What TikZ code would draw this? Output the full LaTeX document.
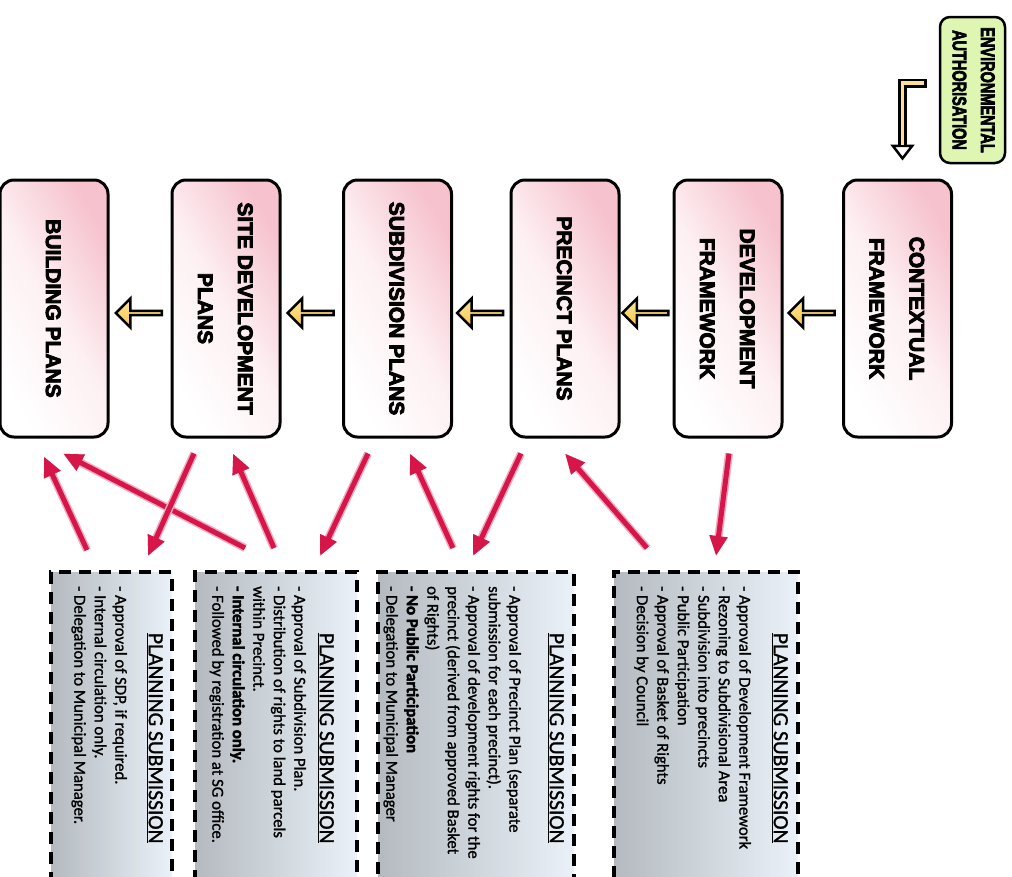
\documentclass[tikz,border=0pt]{standalone}
\usepackage{fontspec}
\setmainfont{Carlito}[UprightFeatures={FakeBold=1.2}, BoldFeatures={FakeBold=2.5}]
\newfontfamily\headfont{Liberation Sans}[BoldFeatures={FakeBold=4}]
\usetikzlibrary{arrows.meta,shapes.arrows,calc}
\definecolor{boxpink}{RGB}{246,194,205}
\definecolor{boxpinkmid}{RGB}{253,240,243}
\definecolor{envgreen}{RGB}{222,246,178}
\definecolor{redarrow}{RGB}{214,22,72}
\definecolor{redhalo}{RGB}{242,170,190}
\definecolor{yellowarrow}{RGB}{246,198,60}
\definecolor{psdark}{RGB}{180,186,192}
\definecolor{pslight}{RGB}{234,241,248}
\tikzset{
  mainbox/.style={draw=black, line width=3pt, rounded corners=14pt,
    minimum width=108pt, minimum height=257pt,
    top color=boxpink, bottom color=white, middle color=boxpinkmid, shading angle=-60,
    inner sep=0pt, font=\headfont\bfseries\fontsize{21}{40}\selectfont},
  envbox/.style={draw=black, line width=2.5pt, rounded corners=10pt, fill=envgreen,
    minimum width=65pt, minimum height=146pt, inner sep=0pt,
    font=\headfont\bfseries\fontsize{14.5}{21}\selectfont},
  psbox/.style={draw=black, line width=4pt, dash pattern=on 12pt off 8pt,
    left color=psdark, right color=pslight, minimum height=338pt, inner sep=0pt},
  pstext/.style={anchor=north east, inner sep=0pt},
  yarrow/.style={single arrow, draw=black, line width=2.5pt,
    top color=yellowarrow!45!white, bottom color=yellowarrow,
    shading angle=0, minimum height=46pt, minimum width=29pt,
    single arrow head extend=7.5pt, shape border rotate=180, inner sep=0pt},
  rarrow/.style={draw=redarrow, line width=5pt, -{Triangle[width=17pt,length=20pt]},
    preaction={draw=redhalo, line width=8pt}},
}
\newcommand{\rot}[1]{\rotatebox{-90}{\begin{tabular}{@{}c@{}}#1\end{tabular}}}
\newcommand{\pstitle}{{\fontsize{21.5}{24}\selectfont\underline{PLANNING SUBMISSION}\par}}
\newcommand{\psbody}{\fontsize{16.7}{20.5}\selectfont\raggedright}
\begin{document}
\begin{tikzpicture}[x=1pt,y=-1pt]
\useasboundingbox (0,0) rectangle (1012,876);
\clip (0,0) rectangle (1012,876);

% main boxes
\node[mainbox] (bp)  at (54,308.5)    {\rot{BUILDING PLANS}};
\node[mainbox] (sdp) at (226,308.5)   {\rot{SITE DEVELOPMENT\\PLANS}};
\node[mainbox] (sp)  at (397.5,308.5) {\rot{SUBDIVISION PLANS}};
\node[mainbox] (pp)  at (565,308.5)   {\rot{PRECINCT PLANS}};
\node[mainbox] (df)  at (728,308.5)   {\rot{DEVELOPMENT\\FRAMEWORK}};
\node[mainbox] (cf)  at (897.5,308.5) {\rot{CONTEXTUAL\\FRAMEWORK}};

% environmental authorisation
\node[envbox] (env) at (972.5,90) {\rotatebox{-90}{\scalebox{1}[1.35]{\begin{tabular}{@{}c@{}}ENVIRONMENTAL\\AUTHORISATION\end{tabular}}}};

% L-shaped arrow
\coordinate (ea) at ([xshift=-12pt,yshift=7pt]env.west);
\draw[line width=9pt, -{Triangle[open, fill=white, line width=2.5pt, width=24pt, length=16pt]}]
  (ea) -| ([xshift=5pt,yshift=18pt]cf.north);
\draw[line width=3.5pt, yellowarrow!55!white]
  ([xshift=-2.75pt]ea) -| ([xshift=5pt,yshift=34pt]cf.north);

% yellow block arrows
\node[yarrow] (ya1) at ($(cf.west)!0.5!(df.east)+(0,4.5)$) {};
\node[yarrow] (ya2) at ($(df.west)!0.5!(pp.east)+(0,4.5)$) {};
\node[yarrow] (ya3) at ($(pp.west)!0.5!(sp.east)+(0,4.5)$) {};
\node[yarrow] (ya4) at ($(sp.west)!0.5!(sdp.east)+(0,4.5)$) {};
\node[yarrow] (ya5) at ($(sdp.west)!0.5!(bp.east)+(0,4.5)$) {};

% planning submission boxes
\node[psbox, minimum width=184pt] (ps1) at (706,741) {};
\node[psbox, minimum width=196pt] (ps2) at (476,741) {};
\node[psbox, minimum width=162pt] (ps3) at (276,741) {};
\node[psbox, minimum width=121pt] (ps4) at (111.5,741) {};

\node[pstext] (ps1t) at ([xshift=-12pt,yshift=-16pt]ps1.north east) {\rotatebox{-90}{\begin{minipage}{304pt}
\centering\pstitle\vspace{14pt}\psbody
- Approval of Development Framework\\
- Rezoning to Subdivisional Area\\
- Subdivision into precincts\\
- Public Participation\\
- Approval of Basket of Rights\\
- Decision by Council\par
\end{minipage}}};

\node[pstext] (ps2t) at ([xshift=-12pt,yshift=-16pt]ps2.north east) {\rotatebox{-90}{\begin{minipage}{304pt}
\centering\pstitle\vspace{20pt}\psbody
- Approval of Precinct Plan (separate\\
submission for each precinct).\\
- Approval of development rights for the\\
precinct (derived from approved Basket\\
of Rights)\\
\textbf{- No Public Participation}\\
- Delegation to Municipal Manager\par
\end{minipage}}};

\node[pstext] (ps3t) at ([xshift=-25pt,yshift=-16pt]ps3.north east) {\rotatebox{-90}{\begin{minipage}{304pt}
\centering\pstitle\vspace{5pt}\psbody
- Approval of Subdivision Plan.\\
- Distribution of rights to land parcels\\
within Precinct.\\
\textbf{- Internal circulation only.}\\
- Followed by registration at SG office.\par
\end{minipage}}};

\node[pstext] (ps4t) at ([xshift=-11pt,yshift=-16pt]ps4.north east) {\rotatebox{-90}{\begin{minipage}{304pt}
\centering\pstitle\vspace{13pt}\psbody
- Approval of SDP, if required.\\
- Internal circulation only.\\
- Delegation to Municipal Manager.\par
\end{minipage}}};

% red arrows
\draw[rarrow] ([xshift=1pt,yshift=-15pt]df.south) -- ([xshift=10pt,yshift=14pt]ps1.north);
\draw[rarrow] ([xshift=-59pt,yshift=22pt]ps1.north) -- ([yshift=-15pt]pp.south);
\draw[rarrow] ([xshift=-44pt,yshift=-15pt]pp.south) -- ([xshift=-3pt,yshift=14pt]ps2.north);
\draw[rarrow] ([xshift=-23pt,yshift=22pt]ps2.north) -- ([xshift=12.5pt,yshift=-15pt]sp.south);
\draw[rarrow] ([xshift=-29.5pt,yshift=-15pt]sp.south) -- ([xshift=44pt,yshift=14pt]ps3.north);
\draw[rarrow] ([xshift=-2pt,yshift=22pt]ps3.north) -- ([xshift=7pt,yshift=-15pt]sdp.south);
\draw[rarrow] ([xshift=-31pt,yshift=22pt]ps3.north) -- ([xshift=9pt,yshift=-15pt]bp.south);
\draw[rarrow] ([xshift=-32pt,yshift=-15pt]sdp.south) -- ([xshift=36.5pt,yshift=14pt]ps4.north);
\draw[rarrow] ([xshift=-24.5pt,yshift=20pt]ps4.north) -- ([xshift=-10pt,yshift=-18pt]bp.south);
\end{tikzpicture}
\end{document}
